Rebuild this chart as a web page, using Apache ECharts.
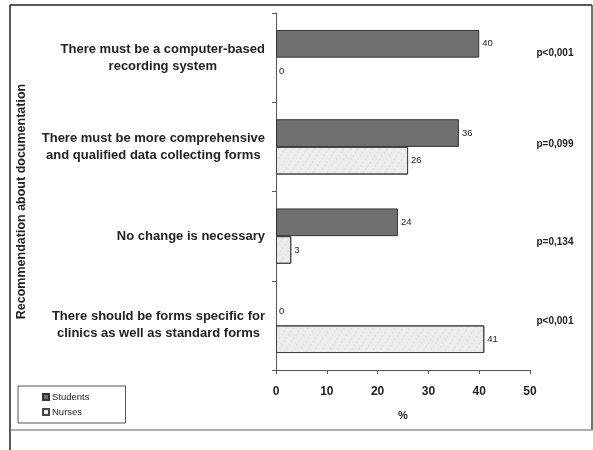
<!DOCTYPE html>
<html>
<head>
<meta charset="utf-8">
<script src="https://cdn.jsdelivr.net/npm/echarts@6/dist/echarts.min.js"></script>
<style>
  html, body { margin: 0; padding: 0; background: #fff; }
  #chart { width: 593px; height: 450px; }
</style>
</head>
<body>
<div id="chart"></div>
<script>
// Recommendations about documentation, top to bottom
const categories = [
  'There must be a computer-based\nrecording system',
  'There must be more comprehensive\nand qualified data collecting forms',
  'No change is necessary',
  'There should be forms specific for\nclinics as well as standard forms'
];
const students = [40, 36, 24, 0];
const nurses = [0, 26, 3, 41];
const pValues = ['p<0,001', 'p=0,099', 'p=0,134', 'p<0,001'];
const xTicks = [0, 10, 20, 30, 40, 50];

const FONT = '"Liberation Sans", Arial, sans-serif';

// Each line of a category label is centred inside a right-aligned block
function centredLines(text) {
  return text.split('\n').map(l => '{c|' + l + '}').join('\n');
}

// Zero-length bars get no outline so only their value label shows
function barData(values) {
  return values.map(v => (v === 0 ? { value: v, itemStyle: { borderWidth: 0 } } : v));
}

const chart = echarts.init(document.getElementById('chart'), null, { renderer: 'canvas' });

const barLabel = { show: true, position: 'right', distance: 3, fontFamily: FONT, fontSize: 9.5, color: '#222' };

const option = {
  animation: false,
  backgroundColor: '#fff',
  textStyle: { fontFamily: FONT },
  grid: { left: 276, right: 63, top: 13, bottom: 80, containLabel: false },
  legend: {
    orient: 'vertical',
    left: 18,
    top: 386,
    itemWidth: 6,
    itemHeight: 6,
    itemGap: 5,
    padding: [6, 36, 6, 24],
    borderColor: '#555',
    borderWidth: 1,
    textStyle: { fontFamily: FONT, fontSize: 9.5, color: '#222', padding: [0, 0, 0, -2] },
    data: [
      { name: 'Students', icon: 'rect' },
      { name: 'Nurses', icon: 'rect' }
    ]
  },
  xAxis: {
    type: 'value',
    min: xTicks[0],
    max: xTicks[xTicks.length - 1],
    interval: xTicks[1] - xTicks[0],
    name: '%',
    nameLocation: 'middle',
    nameGap: 40,
    nameTextStyle: { fontFamily: FONT, fontSize: 11, fontWeight: 'bold', color: '#222' },
    axisLine: { show: true, lineStyle: { color: '#555', width: 1 } },
    axisTick: { show: true, length: 4, lineStyle: { color: '#555' } },
    axisLabel: { fontFamily: FONT, fontSize: 12, fontWeight: 'bold', color: '#222', margin: 16 },
    splitLine: { show: false }
  },
  yAxis: {
    type: 'category',
    inverse: true,
    data: categories,
    name: 'Recommendation about documentation',
    nameLocation: 'middle',
    nameRotate: 90,
    nameGap: 248,
    nameTextStyle: { fontFamily: FONT, fontSize: 12.5, fontWeight: 'bold', color: '#222', padding: [0, 0, 0, -20] },
    axisLine: { show: true, lineStyle: { color: '#555', width: 1 } },
    axisTick: { show: true, length: 4, lineStyle: { color: '#555' } },
    axisLabel: {
      margin: 11,
      formatter: centredLines,
      lineHeight: 17,
      rich: {
        c: { align: 'center', fontFamily: FONT, fontSize: 13, fontWeight: 'bold', color: '#222', lineHeight: 17 }
      }
    }
  },
  series: [
    {
      name: 'Students',
      type: 'bar',
      data: barData(students),
      barGap: '0%',
      barCategoryGap: '38%',
      itemStyle: { color: '#707070', borderColor: '#333', borderWidth: 1 },
      label: barLabel
    },
    {
      name: 'Nurses',
      type: 'bar',
      data: barData(nurses),
      barGap: '0%',
      barCategoryGap: '38%',
      itemStyle: {
        color: '#ececec',
        borderColor: '#444',
        borderWidth: 1,
        decal: {
          symbol: 'circle',
          symbolSize: 0.5,
          dashArrayX: [[3, 3]],
          dashArrayY: [2, 2],
          color: 'rgba(0,0,0,0.18)',
          rotation: 0.6
        }
      },
      label: barLabel
    }
  ]
};

chart.setOption(option);

// Outer frame plus the p-value column placed beside each category
function drawExtras() {
  const elements = [
    { type: 'line', shape: { x1: 10, y1: 5, x2: 592, y2: 5 }, style: { stroke: '#222', lineWidth: 1.5 } },
    { type: 'line', shape: { x1: 10, y1: 5, x2: 10, y2: 450 }, style: { stroke: '#222', lineWidth: 1.5 } },
    { type: 'line', shape: { x1: 592, y1: 5, x2: 592, y2: 430 }, style: { stroke: '#444', lineWidth: 1.5 } },
    { type: 'line', shape: { x1: 11, y1: 430, x2: 593, y2: 430 }, style: { stroke: '#999', lineWidth: 1.5 } }
  ];
  const yOffsets = [-4, -3, 6, -4];
  pValues.forEach((p, i) => {
    const y = chart.convertToPixel({ yAxisIndex: 0 }, categories[i]);
    elements.push({
      type: 'text',
      x: 555,
      y: y + yOffsets[i],
      style: {
        text: p,
        fontFamily: FONT,
        fontSize: 10,
        fontWeight: 'bold',
        fill: '#222',
        align: 'center',
        verticalAlign: 'middle'
      }
    });
  });
  chart.setOption({ graphic: elements });
}
drawExtras();
</script>
</body>
</html>
